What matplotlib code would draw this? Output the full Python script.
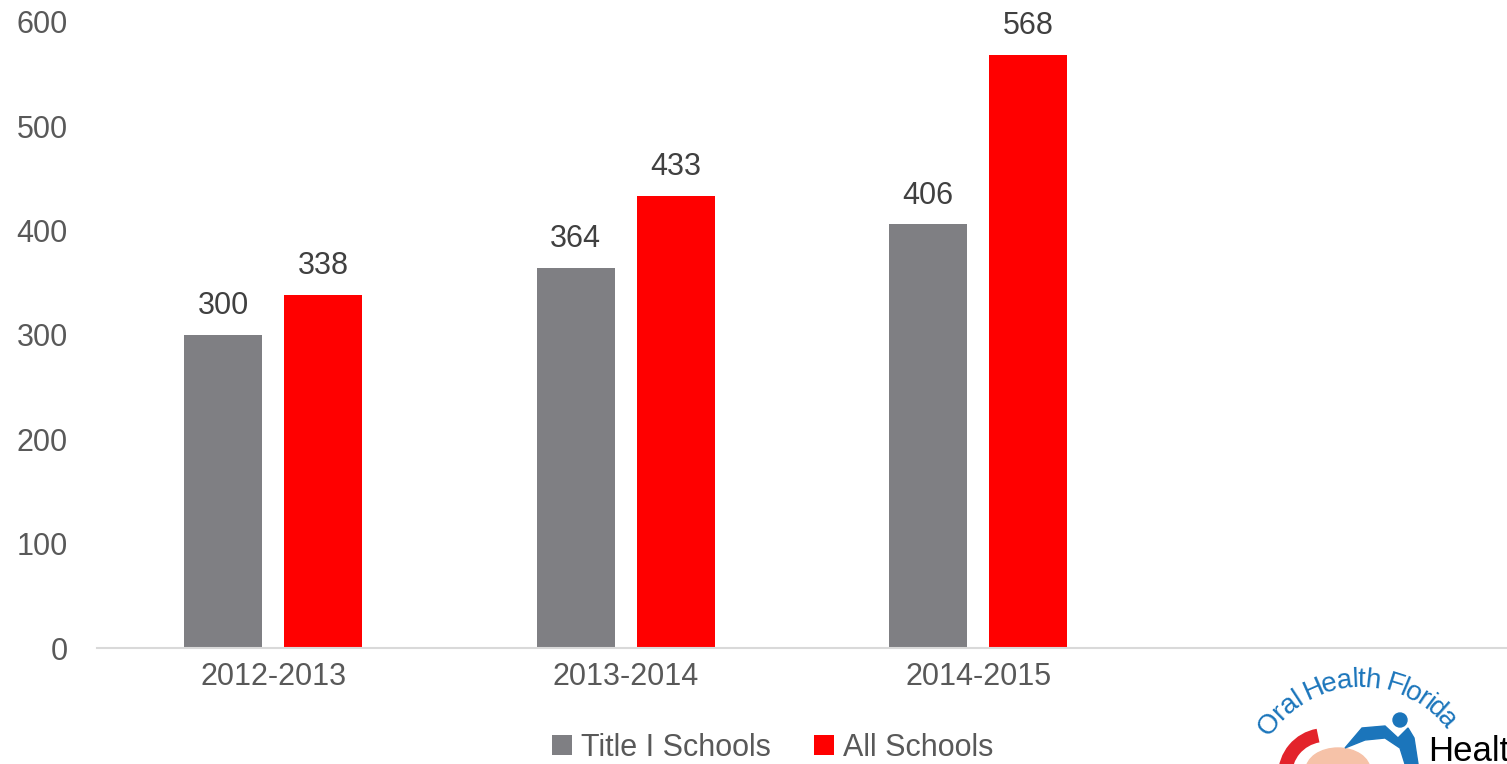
import matplotlib
matplotlib.use("Agg")
import matplotlib.pyplot as plt
import numpy as np
from matplotlib.patches import Arc, Ellipse, Circle, Polygon
from matplotlib.textpath import TextPath
from matplotlib.font_manager import FontProperties

# NOTE : chart data
years = ["2012-2013", "2013-2014", "2014-2015", ""]
title_i = [300, 364, 406]
all_schools = [338, 433, 568]
series_names = ["Title I Schools", "All Schools"]
y_ticks = [0, 100, 200, 300, 400, 500, 600]

gray = "#7F7F83"
red = "#FF0000"
text_col = "#595959"

plt.rcParams["font.family"] = ["Liberation Sans", "DejaVu Sans"]

fig = plt.figure(figsize=(15.07, 7.64), dpi=100)
ax = fig.add_axes([97/1507, 116/764, 1 - 97/1507, (648-22)/764])

x = np.arange(len(years))
w = 0.222
off = 0.142
b1 = ax.bar(x[:3] - off, title_i, w, color=gray, label=series_names[0])
b2 = ax.bar(x[:3] + off, all_schools, w, color=red, label=series_names[1])

for bars in (b1, b2):
    for r in bars:
        ax.annotate(f"{int(r.get_height())}", (r.get_x() + r.get_width()/2, r.get_height()),
                    xytext=(0, 10), textcoords="offset points", ha="center", va="bottom",
                    fontsize=22, color="#404040")

ax.set_xlim(-0.5, 3.5)
ax.set_ylim(0, 600)
ax.set_yticks(y_ticks)
ax.set_xticks(x)
ax.set_xticklabels(years)
ax.tick_params(axis="both", length=0, labelsize=22, labelcolor=text_col)
ax.tick_params(axis="y", pad=21)
ax.tick_params(axis="x", pad=10)
for s in ["top", "right", "left"]:
    ax.spines[s].set_visible(False)
ax.spines["bottom"].set_color("#D9D9D9")
ax.spines["bottom"].set_linewidth(1.5)

fig.legend(loc="center", bbox_to_anchor=(773/1507, 1 - 748/764), ncol=2, frameon=False,
           fontsize=22, labelcolor=text_col, handlelength=0.65, handleheight=0.65,
           handletextpad=0.3, columnspacing=1.4)

# NOTE : logo in the corner, drawn in pixel space
lg = fig.add_axes([0, 0, 1, 1], zorder=-1)
lg.set_xlim(0, 1507)
lg.set_ylim(764, 0)
lg.axis("off")

cx, cy, rad = 1360, 794, 114
word = "Oral Health Florida"
fs = 20
fp = FontProperties(family="Liberation Sans")
fs_px = fs * 100 / 72
widths = []
for ch in word:
    if ch == " ":
        widths.append(0.28 * fs_px)
    else:
        tp = TextPath((0, 0), ch, size=fs_px, prop=fp)
        widths.append(tp.get_extents().width + 0.07 * fs_px)
total = sum(widths)
start = 268 - np.degrees(total / rad) / 2
pos = 0
for ch, cw in zip(word, widths):
    a = start + np.degrees((pos + cw / 2) / rad)
    pos += cw
    t = np.radians(a)
    lg.text(cx + rad * np.cos(t), cy + rad * np.sin(t), ch, rotation=-(a + 90),
            ha="center", va="center", fontsize=fs, color="#1B75BB", rotation_mode="anchor")

lg.add_patch(Arc((1325, 775), 80, 80, theta1=100, theta2=260, color="#E3232B", lw=10))
lg.add_patch(Ellipse((1338, 770), 64, 44, color="#F6C2A8"))
lg.add_patch(Polygon([[1345, 748], [1362, 728], [1385, 726], [1398, 738],
                      [1408, 728], [1414, 738], [1418, 764], [1405, 764],
                      [1400, 748], [1385, 738], [1365, 740]], closed=True, color="#1B75BB"))
lg.add_patch(Circle((1400, 720), 7, color="#1B75BB"))
lg.text(1428, 768, "Healt", fontsize=25, color="black", ha="left", va="bottom")

fig.savefig("out.png", dpi=100)
plt.close()
